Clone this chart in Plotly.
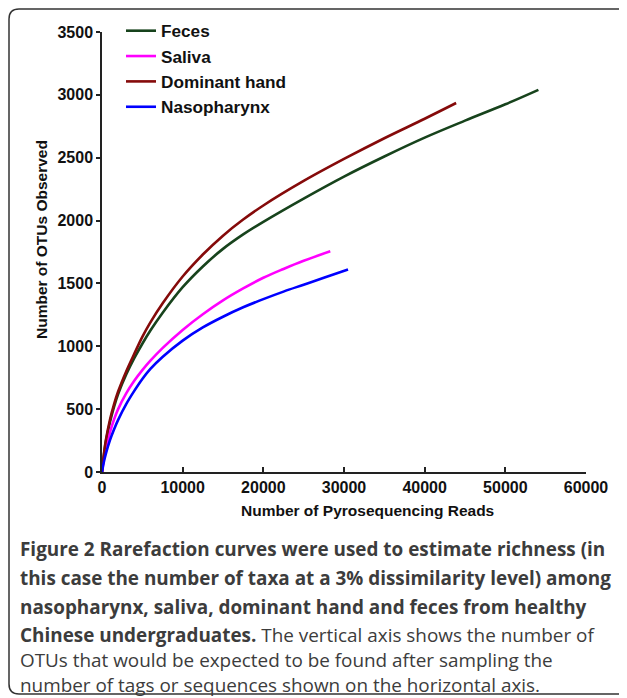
import plotly.graph_objects as go

# ---------------- data ----------------
feces_x = [0, 250, 500, 1000, 1500, 2000, 3000, 4000, 5000, 6000, 7500, 10000, 12500, 15000,
           17500, 20000, 25000, 30000, 35000, 40000, 45000, 50000, 54100]
feces_y = [0, 140, 250, 400, 520, 620, 775, 905, 1020, 1125, 1265, 1470, 1635, 1775,
           1890, 1990, 2175, 2350, 2510, 2660, 2795, 2925, 3040]

saliva_x = [0, 250, 500, 1000, 1500, 2000, 3000, 4000, 5000, 6000, 7500, 10000, 12500, 15000,
            17500, 20000, 22500, 25000, 28300]
saliva_y = [0, 110, 190, 320, 420, 500, 625, 725, 810, 885, 985, 1130, 1255, 1365,
            1460, 1545, 1615, 1680, 1756]

hand_x = [0, 250, 500, 1000, 1500, 2000, 3000, 4000, 5000, 6000, 7500, 10000, 12500, 15000,
          17500, 20000, 25000, 30000, 35000, 40000, 43900]
hand_y = [0, 150, 260, 420, 540, 640, 800, 940, 1075, 1190, 1340, 1555, 1730, 1880,
          2008, 2120, 2315, 2490, 2655, 2810, 2935]

naso_x = [0, 250, 500, 1000, 1500, 2000, 3000, 4000, 5000, 6000, 7500, 10000, 12500, 15000,
          17500, 20000, 22500, 25000, 27500, 30500]
naso_y = [0, 85, 150, 255, 340, 415, 540, 645, 740, 820, 915, 1045, 1150, 1235,
          1310, 1375, 1435, 1490, 1545, 1610]

series_names = ["Feces", "Saliva", "Dominant hand", "Nasopharynx"]
series_colors = ["#17431c", "#ff00ff", "#850a0a", "#0000ff"]

x_ticks = [0, 10000, 20000, 30000, 40000, 50000, 60000]
y_ticks = [0, 500, 1000, 1500, 2000, 2500, 3000, 3500]

x_title = "Number of Pyrosequencing Reads"
y_title = "Number of OTUs Observed"

caption_lines = [
    "<b>Figure 2</b> <b>Rarefaction curves were used to estimate richness (in</b>",
    "<b>this case the number of taxa at a 3% dissimilarity level) among</b>",
    "<b>nasopharynx, saliva, dominant hand and feces from healthy</b>",
    "<b>Chinese undergraduates.</b> The vertical axis shows the number of",
    "OTUs that would be expected to be found after sampling the",
    "number of tags or sequences shown on the horizontal axis.",
]

# ---------------- layout geometry ----------------
# the page body adds an 8px offset; geometry below is given in page pixels
OFF = 8
W, H = 627 - OFF, 698 - OFF
ML, MR, MT, MB = 102 - OFF, 41, 32 - OFF, 226
PW, PH = W - ML - MR, H - MT - MB


def px(x):
    return (x - OFF - ML) / PW


def py(y):
    return (H - MB - (y - OFF)) / PH


fig = go.Figure()
for name, col, xs, ys in zip(series_names, series_colors,
                             [feces_x, saliva_x, hand_x, naso_x],
                             [feces_y, saliva_y, hand_y, naso_y]):
    fig.add_trace(go.Scatter(x=xs, y=ys, mode="lines", name=name,
                             line=dict(color=col, width=2.6, shape="spline", smoothing=1.0)))

fam = "Liberation Sans, Arial, sans-serif"

fig.update_xaxes(range=[0, 60000], tickvals=x_ticks, ticktext=[str(v) for v in x_ticks],
                 showgrid=False, zeroline=False, showline=True, linecolor="#222222", linewidth=1.5,
                 ticks="inside", ticklen=5, tickwidth=1.5, tickcolor="#222222",
                 tickfont=dict(family=fam, size=16, color="#111111", weight="bold"),
                 ticklabelstandoff=0)
fig.update_yaxes(range=[0, 3500], tickvals=y_ticks, ticktext=[str(v) for v in y_ticks],
                 showgrid=False, zeroline=False, showline=True, linecolor="#222222", linewidth=1.5,
                 ticks="outside", ticklen=4, tickwidth=1.5, tickcolor="#222222",
                 tickfont=dict(family=fam, size=16, color="#111111", weight="bold"),
                 ticklabelstandoff=0)

annotations = [
    dict(text="<b>" + x_title + "</b>", x=px(367), y=py(510), xref="paper", yref="paper",
         showarrow=False, xanchor="center", yanchor="middle",
         font=dict(family=fam, size=15.5, color="#111111")),
    dict(text="<b>" + y_title + "</b>", x=px(41), y=py(240), xref="paper", yref="paper",
         showarrow=False, xanchor="center", yanchor="middle", textangle=-90,
         font=dict(family=fam, size=15.5, color="#111111")),
]

cap_y = [549, 578, 607, 635, 660, 685]
for line, yy in zip(caption_lines, cap_y):
    annotations.append(dict(text=line, x=px(18), y=py(yy), xref="paper", yref="paper",
                            showarrow=False, xanchor="left", yanchor="middle",
                            font=dict(family="Open Sans, sans-serif", size=18.9, color="#3c3c3c")))

# rounded frame around the figure (right side runs off the page)
r = 10
x0, y0, x1, y1 = 9, 9, 660, 694
path = (f"M {px(x1)},{py(y0)} L {px(x0 + r)},{py(y0)} "
        f"Q {px(x0)},{py(y0)} {px(x0)},{py(y0 + r)} "
        f"L {px(x0)},{py(y1 - r)} Q {px(x0)},{py(y1)} {px(x0 + r)},{py(y1)} "
        f"L {px(x1)},{py(y1)}")

fig.update_layout(
    width=W, height=H,
    margin=dict(l=ML, r=MR, t=MT, b=MB, autoexpand=False),
    paper_bgcolor="white", plot_bgcolor="white",
    showlegend=True,
    legend=dict(x=px(121), y=py(13), xanchor="left", yanchor="top",
                bgcolor="rgba(0,0,0,0)", borderwidth=0,
                font=dict(family=fam, size=17.2, color="#111111", weight="bold"),
                tracegroupgap=0),
    annotations=annotations,
    shapes=[dict(type="path", path=path, xref="paper", yref="paper",
                 line=dict(color="#333333", width=1.5))],
)

fig.write_html("out.html")
